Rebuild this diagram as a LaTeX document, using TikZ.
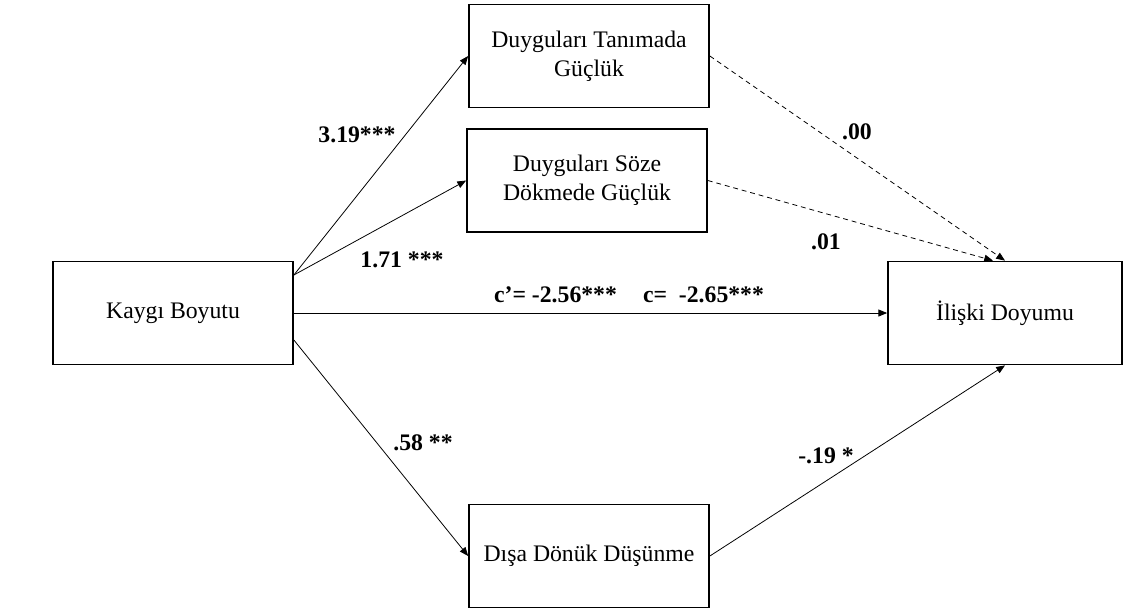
\documentclass[tikz,border=0pt]{standalone}
\usepackage{fontspec}
\setmainfont{Liberation Serif}
\usetikzlibrary{arrows.meta}
\begin{document}
\begin{tikzpicture}[x=0.02cm,y=-0.02cm,
    box/.style={draw,line width=1pt,minimum width=4.8cm,minimum height=2.06cm,
                align=center,inner sep=0,font=\fontsize{13.5}{16.5}\selectfont},
    coef/.style={inner sep=0,font=\fontsize{13.5}{16}\selectfont\bfseries},
    effect/.style={-{Triangle[length=5pt,width=4pt]},line width=0.45pt},
    nseffect/.style={effect,dash pattern=on 2.8pt off 2.2pt}]
    \useasboundingbox (0,0) rectangle (1125,610);
        \node[box] (kaygi) at (173,313) {Kaygı Boyutu};
        \node[box] (tanima) at (589,56) {Duyguları Tanımada\\Güçlük};
        \node[box] (soze) at (587,180.5) {Duyguları Söze\\Dökmede Güçlük};
        \node[box] (disa) at (589,556) {Dışa Dönük Düşünme};
        \node[box,minimum width=4.68cm] (doyum) at (1005,313) {İlişki Doyumu};

        \node[coef] (a1) at (357,135) {3.19***};
        \node[coef] (a2) at (402,260) {1.71 ***};
        \node[coef] (a3) at (423,443) {.58 **};
        \node[coef] (b1) at (857,132) {.00};
        \node[coef] (b2) at (826,242) {.01};
        \node[coef] (b3) at (826,456) {-.19 *};
        \node[coef] (cc) at (629,295) {c’= -2.56***\hspace{1.1em}c=\ \ -2.65***};

    \draw[effect] ([yshift=0.76cm]kaygi.east) -- (tanima.west);
    \draw[effect] ([yshift=0.76cm]kaygi.east) -- (soze.west);
    \draw[effect] ([yshift=-0.54cm]kaygi.east) -- (disa.west);
    \draw[effect] (kaygi.east) -- (doyum.west);
    \draw[nseffect] (tanima.east) -- (doyum.north);
    \draw[nseffect] (soze.east) -- ([xshift=-0.24cm]doyum.north);
    \draw[effect] (disa.east) -- (doyum.south);
\end{tikzpicture}
\end{document}
